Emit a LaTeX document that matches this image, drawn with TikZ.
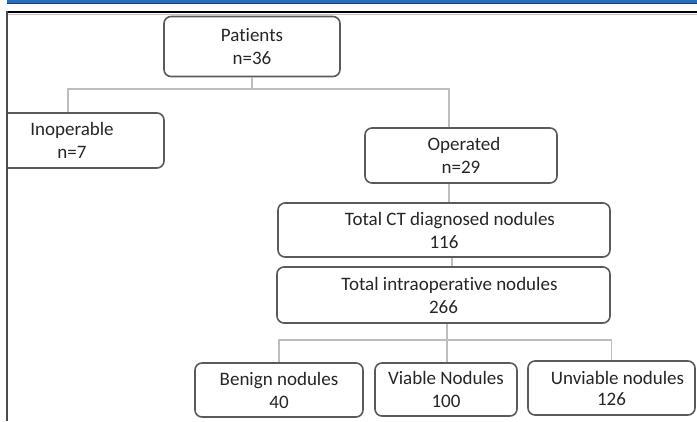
\documentclass[tikz,border=0pt]{standalone}
\usepackage{fontspec}
\setmainfont{Carlito}[Ligatures=NoCommon]
\usepackage{tikz}
\usetikzlibrary{positioning,calc}
\definecolor{fcBorder}{HTML}{5A5A5A}
\definecolor{fcLink}{HTML}{BDBDBD}
\definecolor{fcText}{HTML}{262626}
\definecolor{fcBar}{HTML}{2A6EBB}
\definecolor{fcBarEdge}{HTML}{17407A}
\tikzset{
    stagebox/.style={rectangle,draw=fcBorder,line width=1.6pt,rounded corners=7pt,fill=white,align=center,
        text=fcText,font=\fontsize{19}{23}\selectfont,inner sep=2pt},
    link/.style={draw=fcLink,line width=1.4pt}
}
\begin{document}
\begin{tikzpicture}[x=1pt,y=1pt]
  \useasboundingbox (0,0) rectangle (697,421);

  % Patient level
  \node[stagebox,minimum width=176pt,minimum height=60pt] (patients) at (252,374.5) {Patients\\n=36};
  \node[stagebox,minimum width=184pt,minimum height=55pt] (inoperable) at (72,280.5) {Inoperable\\n=7};
  \node[stagebox,minimum width=192pt,minimum height=55pt] (operated) at (461,265.5) {\hspace*{6pt}Operated\\n=29};

  % Nodule counts
  \node[stagebox,minimum width=332pt,minimum height=54pt] (ctnodules) at (444,191) {\hspace*{12pt}Total CT diagnosed nodules\\116};
  \node[stagebox,minimum width=333pt,minimum height=56pt] (intraop) at (443.5,126) {\hspace*{12pt}Total intraoperative nodules\\266};

  % Outcome of the nodules
  \node[stagebox,minimum width=168pt,minimum height=54pt] (benign) at (279,31) {Benign nodules\\40};
  \node[stagebox,minimum width=142pt,minimum height=53pt] (viable) at (446,31.5) {Viable Nodules\\100};
  \node[stagebox,minimum width=167pt,minimum height=54pt] (unviable) at (611.5,33) {\hspace*{12pt}Unviable nodules\\[-2pt]126};

  % Branch points
  \coordinate (leftdrop) at (68,332);
  \coordinate (rightdrop) at (449,332);
  \coordinate (botsplit) at (447,81);

  % Connection lines
  \draw[link] (patients.south) -- (patients.south |- leftdrop);
  \draw[link] (inoperable.north -| leftdrop) |- (rightdrop) -- (operated.north -| rightdrop);
  \draw[link] (operated.south -| rightdrop) -- (ctnodules.north -| rightdrop);
  \draw[link] ([xshift=8pt]ctnodules.south) -- ([xshift=8pt]ctnodules.south |- intraop.north);
  \draw[link] (intraop.south -| botsplit) -- (viable.north -| botsplit);
  \draw[link] (benign.north) |- (botsplit) -| (unviable.north);

  % Page frame of the screenshot
  \fill[white] (0,0) rectangle (5.5,409);
  \fill[fcBar] (7,417) rectangle (697,421);
  \draw[fcBarEdge,line width=1pt] (7,417) -- (697,417);
  \draw[black,line width=1.6pt] (6,409) -- (697,409);
  \draw[black!25,line width=1pt] (6,406.5) -- (697,406.5);
  \draw[black!70,line width=2pt] (6.5,409.8) -- (6.5,0);
\end{tikzpicture}
\end{document}
